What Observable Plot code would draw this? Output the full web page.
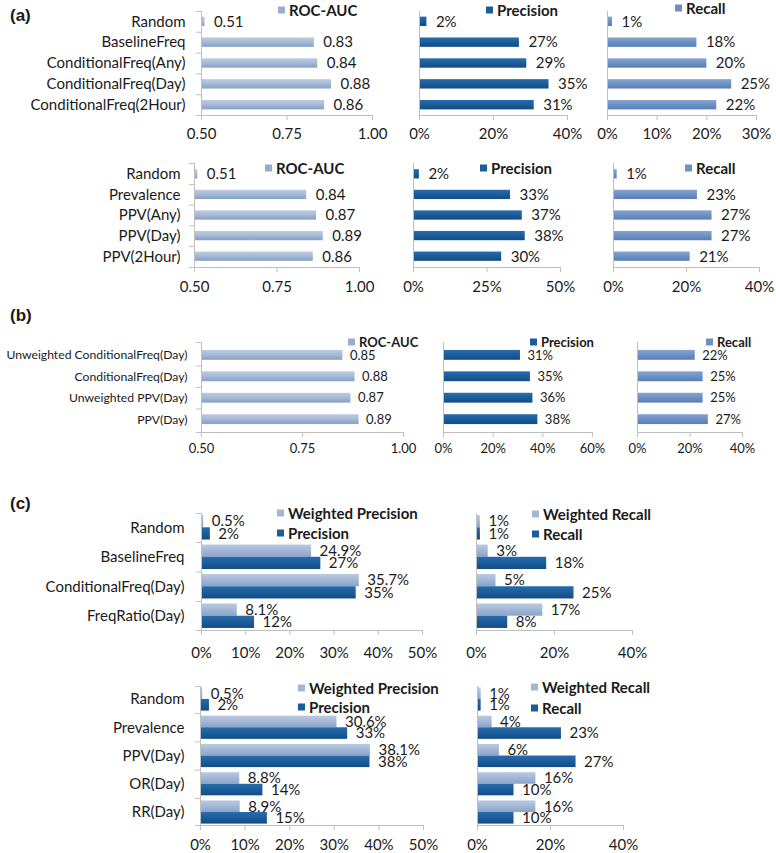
<!DOCTYPE html>
<html><head><meta charset="utf-8">
<script src="https://cdn.jsdelivr.net/npm/d3@7"></script>
<script src="https://cdn.jsdelivr.net/npm/@observablehq/plot@0.6"></script>
<style>
body{margin:0;background:#fff;}
#root{position:relative;width:776px;height:853px;overflow:hidden;font-family:Lato,sans-serif;color:#1a1a1a;}
#root svg.p{position:absolute;}
.plab{position:absolute;font-family:"Liberation Sans",Arial,sans-serif;font-weight:bold;font-size:17px;line-height:1;}
.leg{position:absolute;display:flex;align-items:center;font-weight:bold;white-space:nowrap;transform:translateY(-50%);line-height:1;}
.leg i{display:inline-block;width:7px;height:7px;margin-right:4px;}
</style></head><body>
<svg width="0" height="0" style="position:absolute"><defs>
<linearGradient id="gRoc" x1="0" y1="0" x2="0" y2="1"><stop offset="0" stop-color="#bccbe2"/><stop offset="0.5" stop-color="#a6b9d6"/><stop offset="1" stop-color="#869fc4"/></linearGradient>
<linearGradient id="gPrec" x1="0" y1="0" x2="0" y2="1"><stop offset="0" stop-color="#2a6cab"/><stop offset="0.5" stop-color="#1b5c9a"/><stop offset="1" stop-color="#134c84"/></linearGradient>
<linearGradient id="gRec" x1="0" y1="0" x2="0" y2="1"><stop offset="0" stop-color="#86a4cf"/><stop offset="0.5" stop-color="#6d90c3"/><stop offset="1" stop-color="#5a7fb6"/></linearGradient>
<linearGradient id="gW" x1="0" y1="0" x2="0" y2="1"><stop offset="0" stop-color="#b9c9e1"/><stop offset="0.5" stop-color="#a3b7d5"/><stop offset="1" stop-color="#8aa3c8"/></linearGradient>
</defs></svg>
<div id="root"></div>
<script>
// ---------- DATA ----------
const a1Cats = ["Random","BaselineFreq","ConditionalFreq(Any)","ConditionalFreq(Day)","ConditionalFreq(2Hour)"];
const a1Roc  = [0.51,0.83,0.84,0.88,0.86];
const a1Prec = [2,27,29,35,31];
const a1Rec  = [1,18,20,25,22];

const a2Cats = ["Random","Prevalence","PPV(Any)","PPV(Day)","PPV(2Hour)"];
const a2Roc  = [0.51,0.84,0.87,0.89,0.86];
const a2Prec = [2,33,37,38,30];
const a2Rec  = [1,23,27,27,21];

const bCats = ["Unweighted ConditionalFreq(Day)","ConditionalFreq(Day)","Unweighted PPV(Day)","PPV(Day)"];
const bRoc  = [0.85,0.88,0.87,0.89];
const bPrec = [31,35,36,38];
const bRec  = [22,25,25,27];

const c1Cats  = ["Random","BaselineFreq","ConditionalFreq(Day)","FreqRatio(Day)"];
const c1WPrec = [0.5,24.9,35.7,8.1];
const c1Prec  = [2,27,35,12];
const c1WRec  = [1,3,5,17];
const c1Rec   = [1,18,25,8];

const c2Cats  = ["Random","Prevalence","PPV(Day)","OR(Day)","RR(Day)"];
const c2WPrec = [0.5,30.6,38.1,8.8,8.9];
const c2Prec  = [2,33,38,14,15];
const c2WRec  = [1,4,6,16,16];
const c2Rec   = [1,23,27,10,10];

const rocTicks = [0.5,0.75,1.0];
const pct40a = [0,20,40], pct30 = [0,10,20,30], pct50q = [0,25,50], pct60 = [0,20,40,60], pct50 = [0,10,20,30,40,50];

// ---------- STYLE ----------
const AX = "#bfbfbf", TXT = "#1a1a1a";
const fRoc = d3.format(".2f");
const fPct = d => d + "%";
const fPct1 = d => d.toFixed(1) + "%";
const root = document.getElementById("root");

function panel(o){
  const ml = o.x0 - o.left, mr = o.left + o.width - o.x1;
  const mt = o.y0 - o.top, mb = o.top + o.height - o.y1;
  const band = d3.scaleBand().domain(o.cats).range([o.y0, o.y1]).paddingInner(o.pi).paddingOuter(o.po);
  const step = band.step(), bw = band.bandwidth();
  const [dmin, dmax] = o.domain;
  const nS = o.series.length, sub = bw / nS;
  const marks = [];
  const last = o.cats[o.cats.length-1];
  const lastC = band(last) + bw/2;
  o.series.forEach((s, k) => {
    const rows = o.cats.map((c,i)=>({c, v:s.values[i], t:s.fmt(s.values[i])}));
    marks.push(Plot.barX(rows, {x1: () => dmin, x2: "v", y: "c", fill: s.fill,
      insetTop: k*sub, insetBottom: (nS-1-k)*sub}));
    marks.push(Plot.text(rows, {x: "v", y: "c", text: "t", dx: o.labDx, dy: -bw/2 + sub*(k+0.5),
      textAnchor: "start", fontSize: o.valFont, fill: TXT, fontFamily: "Lato"}));
  });
  marks.push(Plot.ruleX([dmin], {stroke: AX}));
  marks.push(Plot.ruleY([last], {x1: dmin, x2: dmax, dy: o.y1 - lastC, stroke: AX, insetLeft: o.sep ? -5 : 0}));
  if (o.sep) {
    marks.push(Plot.ruleY(o.cats.slice(1), {x1: dmin, x2: dmin, dy: -step/2, insetLeft: -5, stroke: AX}));
    marks.push(Plot.ruleY(o.cats.slice(0,1), {x1: dmin, x2: dmin, dy: o.y0 - (band(o.cats[0]) + bw/2), insetLeft: -5, stroke: AX}));
  }
  marks.push(Plot.axisX({ticks: o.ticks, tickFormat: o.tickFmt, tickSize: 5, tickPadding: o.tp,
    fontSize: o.tickFont, stroke: AX, fill: TXT, label: null}));
  if (o.catAxis) marks.push(Plot.axisY({tickSize: 0, tickPadding: o.cp, fontSize: o.catFont, fill: TXT, label: null}));
  const svg = Plot.plot({
    width: o.width, height: o.height,
    marginLeft: ml, marginRight: mr, marginTop: mt, marginBottom: mb,
    style: {background: "transparent", overflow: "visible", fontFamily: "Lato"},
    x: {domain: o.domain, label: null},
    y: {domain: o.cats, paddingInner: o.pi, paddingOuter: o.po, round: false, label: null, axis: o.catAxis ? undefined : null},
    marks
  });
  svg.classList.add("p");
  svg.style.left = o.left + "px";
  svg.style.top = o.top + "px";
  root.appendChild(svg);
}

function leg(x, y, color, text, fs){
  const d = document.createElement("div");
  d.className = "leg";
  d.style.left = x + "px"; d.style.top = y + "px"; d.style.fontSize = fs + "px";
  d.innerHTML = `<i style="background:${color}"></i><span>${text}</span>`;
  root.appendChild(d);
}
function plab(x, y, t){
  const d = document.createElement("div");
  d.className = "plab"; d.style.left = x + "px"; d.style.top = y + "px"; d.textContent = t;
  root.appendChild(d);
}

// ---------- (a) row 1 ----------
const A1 = {cats: a1Cats, top: 0, height: 150, y0: 11, y1: 115, pi: 0.55, po: 0.27, labDx: 9, valFont: 15, tickFont: 15, tp: 8};
panel({...A1, left: 0, width: 395, x0: 201, x1: 372, domain: [0.5,1], ticks: rocTicks, tickFmt: fRoc,
  series: [{values: a1Roc, fill: "url(#gRoc)", fmt: fRoc}], catAxis: true, catFont: 15, cp: 16, sep: true});
panel({...A1, left: 395, width: 195, x0: 419, x1: 567, domain: [0,40], ticks: pct40a, tickFmt: fPct,
  series: [{values: a1Prec, fill: "url(#gPrec)", fmt: fPct}]});
panel({...A1, left: 590, width: 186, x0: 607, x1: 756, domain: [0,30], ticks: pct30, tickFmt: fPct,
  series: [{values: a1Rec, fill: "url(#gRec)", fmt: fPct}]});

// ---------- (a) row 2 ----------
const A2 = {cats: a2Cats, top: 150, height: 150, y0: 163, y1: 267, pi: 0.55, po: 0.3, labDx: 9, valFont: 15, tickFont: 15, tp: 9};
panel({...A2, left: 0, width: 390, x0: 194, x1: 359, domain: [0.5,1], ticks: rocTicks, tickFmt: fRoc,
  series: [{values: a2Roc, fill: "url(#gRoc)", fmt: fRoc}], catAxis: true, catFont: 15, cp: 14, sep: true});
panel({...A2, left: 390, width: 200, x0: 413, x1: 560, domain: [0,50], ticks: pct50q, tickFmt: fPct,
  series: [{values: a2Prec, fill: "url(#gPrec)", fmt: fPct}]});
panel({...A2, left: 590, width: 186, x0: 613, x1: 759, domain: [0,40], ticks: pct40a, tickFmt: fPct,
  series: [{values: a2Rec, fill: "url(#gRec)", fmt: fPct}]});

// ---------- (b) ----------
const B = {cats: bCats, top: 300, height: 160, y0: 342, y1: 432, pi: 0.54, po: 0.37, labDx: 7, valFont: 13, tickFont: 13, tp: 6};
panel({...B, left: 0, width: 420, x0: 201, x1: 403, domain: [0.5,1], ticks: rocTicks, tickFmt: fRoc,
  series: [{values: bRoc, fill: "url(#gRoc)", fmt: fRoc}], catAxis: true, catFont: 12.2, cp: 14, sep: true});
panel({...B, left: 420, width: 190, x0: 443, x1: 592, domain: [0,60], ticks: pct60, tickFmt: fPct,
  series: [{values: bPrec, fill: "url(#gPrec)", fmt: fPct}]});
panel({...B, left: 610, width: 166, x0: 637, x1: 742, domain: [0,40], ticks: pct40a, tickFmt: fPct,
  series: [{values: bRec, fill: "url(#gRec)", fmt: fPct}]});

// ---------- (c) row 1 ----------
const C1 = {cats: c1Cats, top: 460, height: 200, y0: 513, y1: 630, pi: 0.17, po: 0.07, labDx: 8, valFont: 15, tickFont: 15, tp: 12};
panel({...C1, left: 0, width: 455, x0: 201, x1: 422, domain: [0,50], ticks: pct50, tickFmt: fPct,
  series: [{values: c1WPrec, fill: "url(#gW)", fmt: fPct1}, {values: c1Prec, fill: "url(#gPrec)", fmt: fPct}],
  catAxis: true, catFont: 15, cp: 17, sep: true});
panel({...C1, left: 455, width: 321, x0: 476, x1: 632, domain: [0,40], ticks: pct40a, tickFmt: fPct,
  series: [{values: c1WRec, fill: "url(#gW)", fmt: fPct}, {values: c1Rec, fill: "url(#gPrec)", fmt: fPct}]});

// ---------- (c) row 2 ----------
const C2 = {cats: c2Cats, top: 660, height: 193, y0: 686, y1: 825, pi: 0.18, po: 0.05, labDx: 8, valFont: 15, tickFont: 15, tp: 9};
panel({...C2, left: 0, width: 455, x0: 200, x1: 423, domain: [0,50], ticks: pct50, tickFmt: fPct,
  series: [{values: c2WPrec, fill: "url(#gW)", fmt: fPct1}, {values: c2Prec, fill: "url(#gPrec)", fmt: fPct}],
  catAxis: true, catFont: 15, cp: 16, sep: true});
panel({...C2, left: 455, width: 321, x0: 477, x1: 623, domain: [0,40], ticks: pct40a, tickFmt: fPct,
  series: [{values: c2WRec, fill: "url(#gW)", fmt: fPct}, {values: c2Rec, fill: "url(#gPrec)", fmt: fPct}]});

// ---------- legends & panel labels ----------
const cRoc = "#98aed0", cPrec = "#1b5c9a", cRec = "#6d90c3", cW = "#a3b7d5";
leg(278, 10, cRoc, "ROC-AUC", 15);
leg(486, 10, cPrec, "Precision", 15);
leg(675, 8, cRec, "Recall", 15);
leg(265, 168, cRoc, "ROC-AUC", 15);
leg(480, 168, cPrec, "Precision", 15);
leg(685, 168, cRec, "Recall", 15);
leg(348, 342, cRoc, "ROC-AUC", 13);
leg(530, 342, cPrec, "Precision", 13);
leg(706, 342, cRec, "Recall", 13);
leg(277, 513, cW, "Weighted Precision", 15);
leg(277, 533, cPrec, "Precision", 15);
leg(532, 514, cW, "Weighted Recall", 15);
leg(532, 534, cPrec, "Recall", 15);
leg(298, 688, cW, "Weighted Precision", 15);
leg(298, 707, cPrec, "Precision", 15);
leg(531, 687, cW, "Weighted Recall", 15);
leg(531, 708, cPrec, "Recall", 15);
plab(10, 7, "(a)");
plab(10, 307, "(b)");
plab(10, 495, "(c)");
</script>
</body></html>
